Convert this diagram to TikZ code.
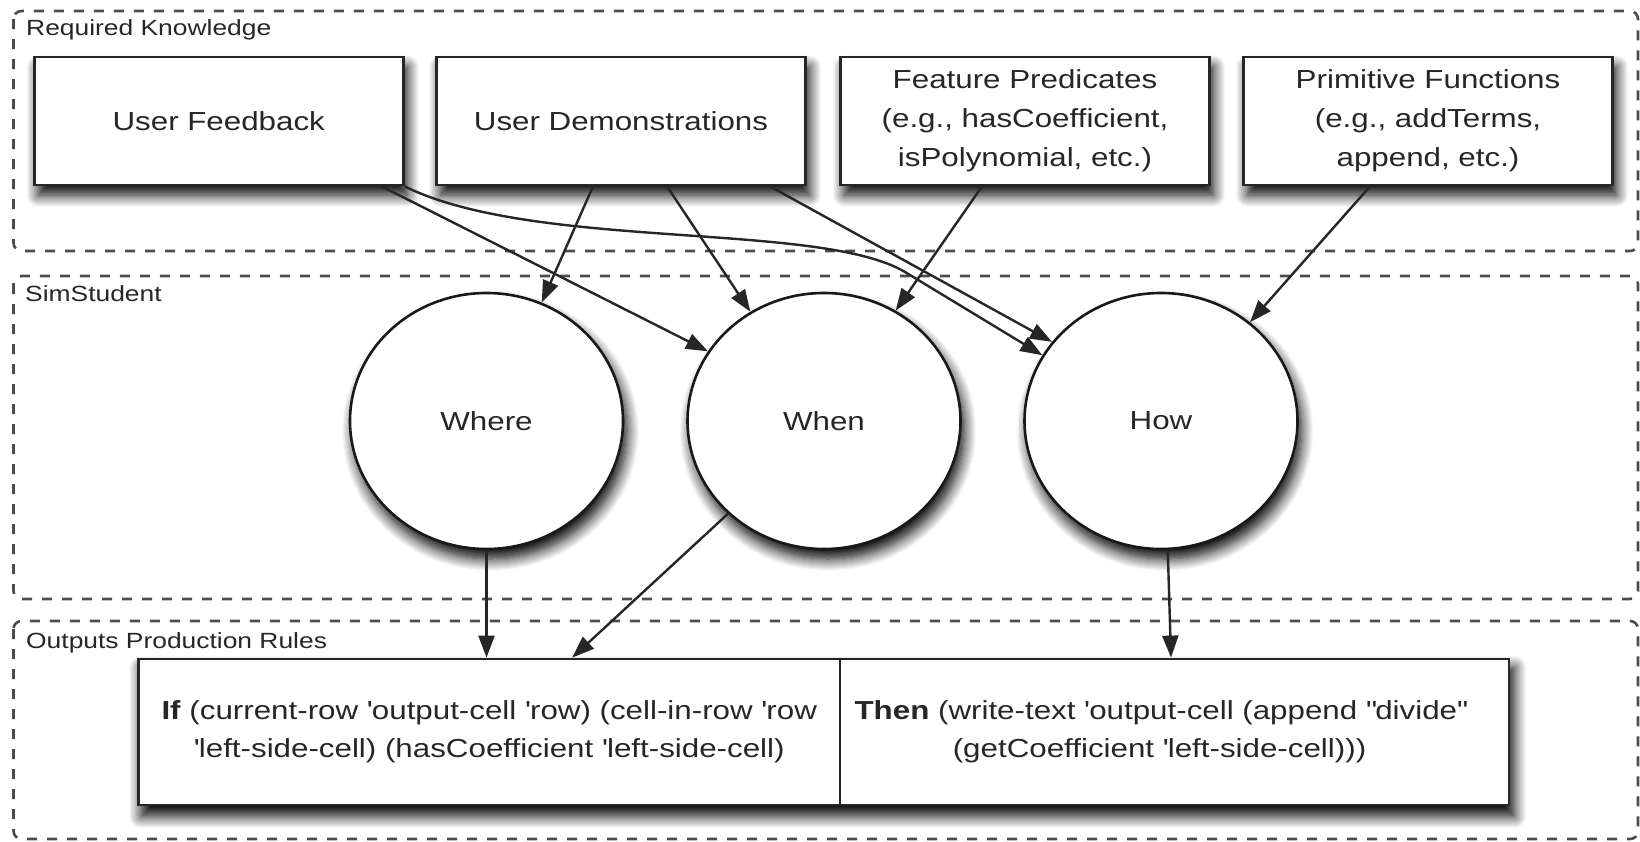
\documentclass[tikz,border=0pt]{standalone}
\usepackage{fontspec}
\setmainfont{Liberation Sans}[FakeStretch=1.2]
\usetikzlibrary{shapes.geometric, arrows.meta, shadows.blur, backgrounds}

\tikzset{
  myshadow/.style={blur shadow={shadow xshift=4pt, shadow yshift=-10pt, shadow blur radius=12pt, shadow blur steps=12, shadow opacity=100}},
  group/.style={draw=black!70, line width=2.6pt, dash pattern=on 10pt off 10pt, rounded corners=8pt},
  grouplabel/.style={anchor=base west, inner sep=0pt, font=\fontsize{22pt}{26pt}\selectfont, text=black!85},
  kbox/.style={draw=black!85, fill=white, line width=2.8pt, minimum width=369pt, minimum height=128pt,
    inner sep=0pt, align=center, font=\fontsize{26.1pt}{39pt}\selectfont, text=black!85, myshadow},
  comp/.style={ellipse, draw=black!90, fill=white, line width=2.6pt, minimum width=273pt, minimum height=256pt,
    inner sep=0pt, font=\fontsize{26.1pt}{39pt}\selectfont, text=black!85, myshadow},
  rulebox/.style={draw=black!85, fill=white, line width=2.8pt, minimum height=146pt, inner sep=0pt,
    align=center, font=\fontsize{26.1pt}{38pt}\selectfont, text=black!85},
  arr/.style={-{Triangle[length=22pt,width=16pt]}, line width=2.4pt, draw=black!85},
}

\begin{document}
\begin{tikzpicture}[x=1pt, y=-1pt]
\useasboundingbox (0,0) rectangle (1640,841);

% group containers
\draw[group] (13.5,11) rectangle (1638,251);
\draw[group] (13.5,276) rectangle (1638,599);
\draw[group] (13.5,621) rectangle (1638,839);
\node[grouplabel] (lrk) at (26,35) {Required Knowledge};
\node[grouplabel] (lss) at (25,301) {SimStudent};
\node[grouplabel] (lopr) at (26,648) {Outputs Production Rules};

% knowledge boxes
\node[kbox] (uf) at (218.75,121) {User Feedback};
\node[kbox] (ud) at (621,121) {User Demonstrations};
\node[kbox] (fp) at (1025,121) {Feature Predicates\\(e.g., hasCoefficient,\\isPolynomial, etc.)};
\node[kbox] (pf) at (1428,121) {Primitive Functions\\(e.g., addTerms,\\append, etc.)};

% SimStudent components
\node[comp] (where) at (486.5,421) {Where};
\node[comp] (when) at (824,421) {When};
\node[comp] (how) at (1161,421) {How};

% production rule
\node[rulebox, minimum width=701.5pt] (ifbox) at (489.25,732)
  {\textbf{If} (current-row \textquotesingle output-cell \textquotesingle row) (cell-in-row \textquotesingle row\\
   \textquotesingle left-side-cell) (hasCoefficient \textquotesingle left-side-cell)};
\node[rulebox, minimum width=669pt] (thenbox) at (1174.5,732)
  {\textbf{Then} (write-text \textquotesingle output-cell (append \textquotedbl divide\textquotedbl\hspace*{28pt}\\
   (getCoefficient \textquotesingle left-side-cell)))\hspace*{30pt}};
\begin{scope}[on background layer]
\path[fill=white, myshadow] (ifbox.north west) rectangle (thenbox.south east);
\end{scope}

% connectors
\draw[arr] ([xshift=163pt]uf.south) -- (when.149);
\draw[arr] (uf.south east) .. controls (536,251) and (819,221) .. (905,272) -- (how.151);
\draw[arr] ([xshift=-28pt]ud.south) -- (where.65);
\draw[arr] ([xshift=46pt]ud.south) -- (when.124);
\draw[arr] ([xshift=149pt]ud.south) -- (how.144);
\draw[arr] ([xshift=-43pt]fp.south) -- (when.57);
\draw[arr] ([xshift=-58pt]pf.south) -- (how.48);
\draw[arr] (where.south) -- (where.south |- ifbox.north);
\draw[arr] (when.224) -- ([xshift=83pt]ifbox.north);
\draw[arr] (how.-87) -- ([xshift=-3.5pt]thenbox.north);
\end{tikzpicture}
\end{document}
